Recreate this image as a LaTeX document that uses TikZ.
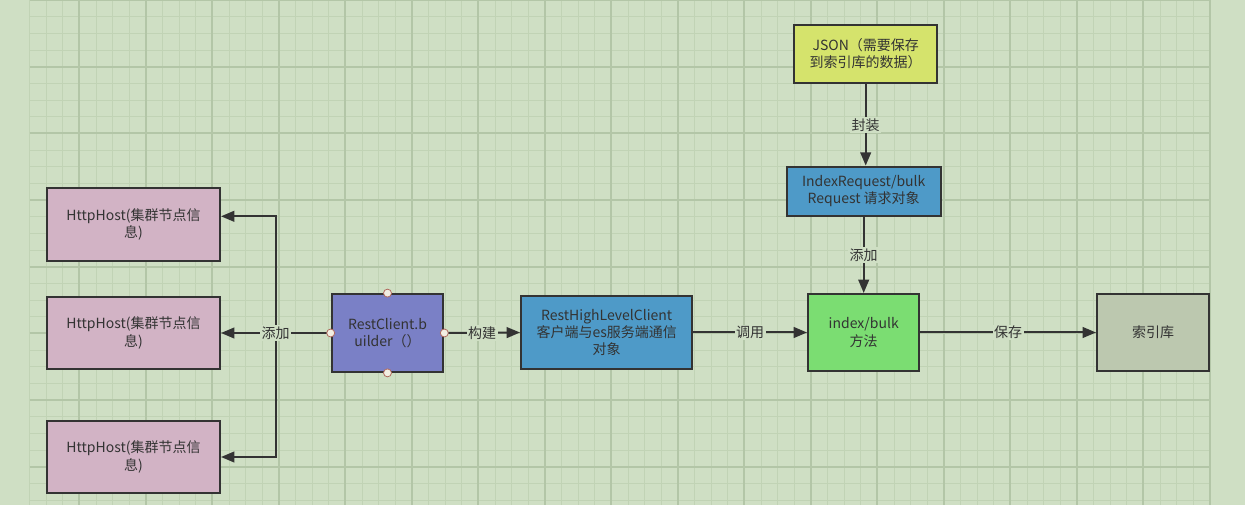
\documentclass[tikz,border=0pt]{standalone}
\usepackage{fontspec}
\setmainfont{Noto Sans CJK SC}
\usepackage{xcolor}
\usetikzlibrary{arrows.meta, positioning}

\definecolor{canvas}{HTML}{CFDFC4}
\definecolor{gridminor}{HTML}{C1D3B5}
\definecolor{gridmajor}{HTML}{B3C6A7}
\definecolor{ink}{HTML}{333333}
\definecolor{hostpink}{HTML}{D2B3C5}
\definecolor{builderblue}{HTML}{7A80C6}
\definecolor{steelblue}{HTML}{4E9AC8}
\definecolor{methodgreen}{HTML}{7BDD72}
\definecolor{jsonyellow}{HTML}{D5E36C}
\definecolor{libgray}{HTML}{BCC8AF}
\definecolor{portred}{HTML}{B06A5E}
\definecolor{portfill}{HTML}{F2EEE2}

\begin{document}
\begin{tikzpicture}[
  x=0.75pt, y=-0.75pt,
  font=\fontsize{10.5}{13}\selectfont,
  box/.style={rectangle, draw=ink, line width=1.5pt, align=center, inner sep=0pt, text=ink},
  hostbox/.style={box, fill=hostpink, minimum width=129.75pt, minimum height=54.5pt},
  arr/.style={-{Triangle[length=10pt, width=8pt]}, line width=1.5pt, draw=ink},
  lbl/.style={fill=canvas, inner sep=1pt, text=ink},
  port/.style={circle, draw=portred, fill=portfill, line width=0.6pt, minimum size=6pt, inner sep=0pt}
]
\useasboundingbox (0,0) rectangle (1245,505);
\fill[canvas] (0,0) rectangle (1245,505);
\foreach \i in {0,...,71}
  \draw[gridminor, line width=0.7pt] ({29.5+16.625*\i},0) -- ({29.5+16.625*\i},505);
\foreach \j in {0,...,30}
  \draw[gridminor, line width=0.7pt] (29.5,{16.667*\j}) -- (1209.9,{16.667*\j});
\foreach \i in {3,7,...,71}
  \draw[gridmajor, line width=1.4pt] ({29.5+16.625*\i},0) -- ({29.5+16.625*\i},505);
\foreach \j in {0,4,...,28}
  \draw[gridmajor, line width=1.4pt] (29.5,{16.667*\j}) -- (1209.9,{16.667*\j});

\node[hostbox] (host1) at (133.5,224.3) {HttpHost(集群节点信\\息)};
\node[hostbox] (host2) at (133.5,333) {HttpHost(集群节点信\\息)};
\node[hostbox] (host3) at (133.5,457) {HttpHost(集群节点信\\息)};

\node[box, fill=builderblue, minimum width=83.7pt, minimum height=58.3pt] (builder) at (387.5,333) {RestClient.b\\uilder（）};
\node[box, fill=steelblue, minimum width=128.5pt, minimum height=54.2pt] (client) at (606.7,332.5) {RestHighLevelClient\\客户端与es服务端通信\\对象};
\node[box, fill=methodgreen, minimum width=83.5pt, minimum height=57.75pt] (method) at (863.7,332.5) {index/bulk\\方法};
\node[box, fill=libgray, minimum width=84pt, minimum height=57.75pt] (indexlib) at (1153,332.5) {索引库};
\node[box, fill=jsonyellow, minimum width=107.5pt, minimum height=43.3pt] (json) at (865.7,54) {JSON（需要保存\\到索引库的数据）};
\node[box, fill=steelblue, minimum width=115.5pt, minimum height=37pt] (request) at (863.7,191.3) {IndexRequest/bulk\\Request 请求对象};

\coordinate (split) at (275.5,333);
\draw[arr] (builder.west) -- (split) |- ([yshift=6pt]host1.east);
\draw[arr] (split) -- (host2.east);
\draw[arr] (split) |- (host3.east);
\node[lbl] (addlbl) at (split) {添加};

\draw[arr] (builder.east) -- node[lbl] {构建} (client.west);
\draw[arr] (client.east) -- node[lbl] {调用} (method.west);
\draw[arr] (method.east) -- node[lbl] {保存} (indexlib.west);
\draw[arr] (json.south) -- node[lbl] {封装} (json.south|-request.north);
\draw[arr] (request.south) -- node[lbl] {添加} (method.north);

\foreach \a in {north,south,west,east}
  \node[port] at (builder.\a) {};
\end{tikzpicture}
\end{document}
